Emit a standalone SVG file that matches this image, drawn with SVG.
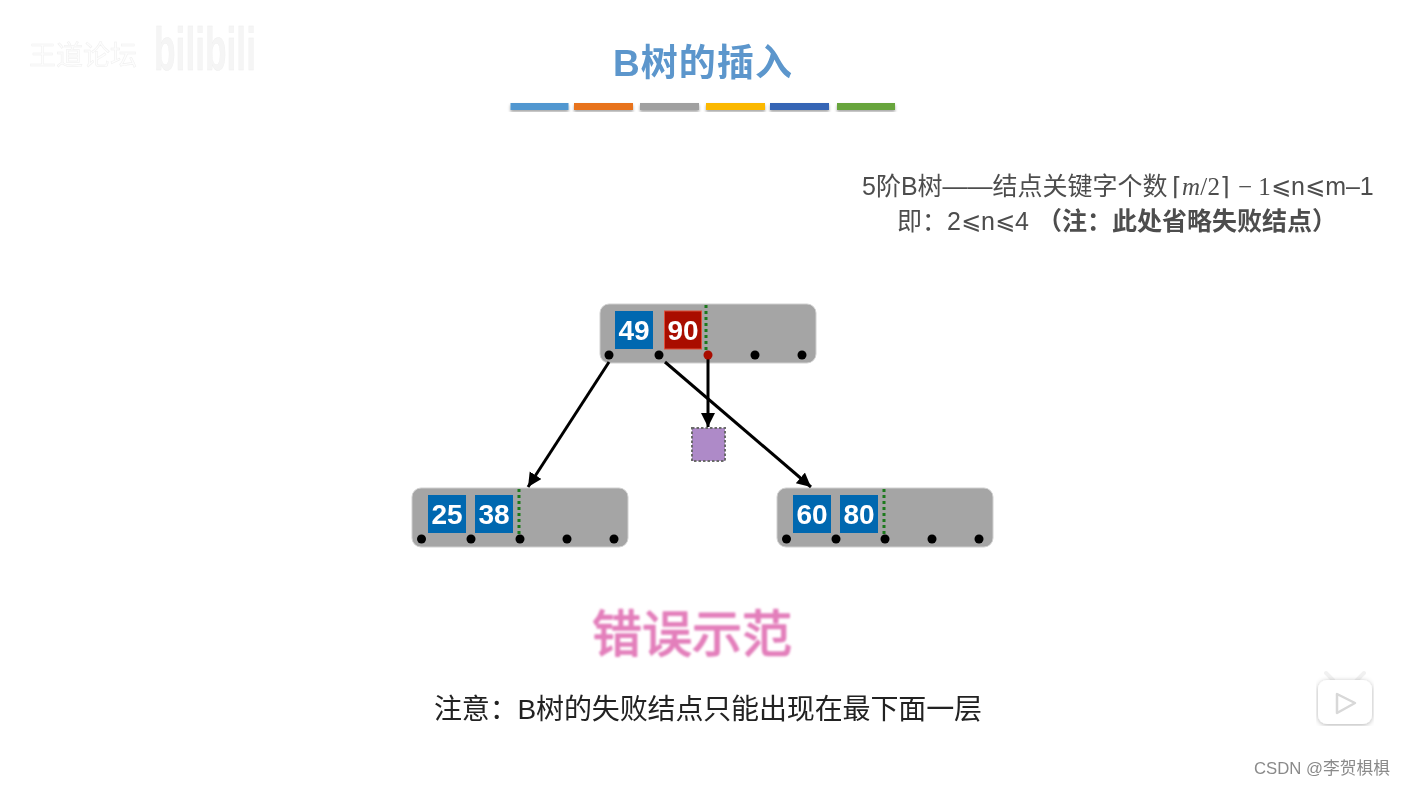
<svg xmlns="http://www.w3.org/2000/svg" width="1405" height="788" viewBox="0 0 1405 788">
<style>
text{font-family:"Liberation Sans","Noto Sans CJK SC",sans-serif}
g{filter:url(#b)}
.node{fill:#a5a5a5;stroke:#d0d0d0;stroke-width:1}
.key{fill:#0567b0}
.keyr{fill:#a90f04;stroke:#e0503a;stroke-width:1}
.num{fill:#fff;font-size:28px;font-weight:bold;text-anchor:middle}
.dot{fill:#000}
.sep{stroke:#1f7a1f;stroke-width:3;stroke-dasharray:3 3}
.edge{stroke:#000;stroke-width:3;fill:none;marker-end:url(#ah)}
.bar{filter:url(#sh)}
.t1{fill:#4d4d4d;font-size:25px}
.le{font-family:"DejaVu Sans",sans-serif;font-size:24px}
</style>
<defs>
<marker id="ah" markerUnits="userSpaceOnUse" markerWidth="16" markerHeight="16" refX="14" refY="7" orient="auto"><path d="M0 0L14 7L0 14Z" fill="#000"/></marker>
<filter id="b" x="-2%" y="-2%" width="104%" height="104%"><feGaussianBlur stdDeviation=".45"/></filter>
<filter id="sh" x="-10%" y="-50%" width="120%" height="250%"><feDropShadow dx="0" dy="2" stdDeviation="1.5" flood-color="#000" flood-opacity=".35"/></filter>
<filter id="tvs" x="-30%" y="-30%" width="160%" height="160%"><feDropShadow dx="0" dy="1" stdDeviation="2.5" flood-color="#000" flood-opacity=".3"/></filter>
<filter id="soft" x="-5%" y="-10%" width="110%" height="120%"><feGaussianBlur stdDeviation=".8"/></filter>
</defs>
<rect width="1405" height="788" fill="#fff"/>

<g id="watermark" fill="#f6f6f6" stroke="#efefef" stroke-width=".5">
<text x="29" y="65" font-size="27" fill="#fdfdfd">王道论坛</text>
<text x="154" y="70" font-size="62" font-weight="bold" textLength="102" lengthAdjust="spacingAndGlyphs" fill="#f5f5f5" style="font-family:'Liberation Sans',sans-serif">bilibili</text>
</g>

<g id="title">
<text x="613" y="76" font-size="37" font-weight="bold" fill="#5b96cc" textLength="179">B树的插入</text>
<rect class="bar" x="510.500" y="103" width="58" height="7" fill="#5197d0"/>
<rect class="bar" x="574" y="103" width="59" height="7" fill="#e8731f"/>
<rect class="bar" x="640" y="103" width="59" height="7" fill="#a0a0a0"/>
<rect class="bar" x="706" y="103" width="59" height="7" fill="#fbb800"/>
<rect class="bar" x="770" y="103" width="59" height="7" fill="#3565b5"/>
<rect class="bar" x="837" y="103" width="58" height="7" fill="#68a53c"/>
</g>

<g id="definition">
<text class="t1" x="862" y="195">5阶B树——结点关键字个数</text>
<text x="1172" y="195" font-size="25" fill="#4d4d4d" textLength="58" style="font-family:'Liberation Serif',serif">⌈<tspan font-style="italic">m</tspan>/2⌉</text>
<text x="1238" y="195" font-size="25" fill="#4d4d4d" style="font-family:'Liberation Serif',serif">− 1</text>
<text class="t1" x="1271" y="195"><tspan class="le" dy="-1">⩽</tspan><tspan dy="1">n</tspan><tspan class="le" dy="-1">⩽</tspan><tspan dy="1">m–1</tspan></text>
<text class="t1" x="897" y="230">即：2<tspan class="le" dy="-1">⩽</tspan><tspan dy="1">n</tspan><tspan class="le" dy="-1">⩽</tspan><tspan dy="1">4</tspan></text>
<text class="t1" x="1037" y="230" font-weight="bold">（注：此处省略失败结点）</text>
</g>

<g id="node-root">
<rect class="node" x="600" y="304" width="216" height="59" rx="9"/>
<rect class="key" x="615" y="311" width="38" height="38"/>
<text class="num" x="634" y="340">49</text>
<rect class="keyr" x="664.500" y="311" width="37" height="38"/>
<text class="num" x="683" y="340">90</text>
<path class="sep" d="M706 305V350"/>
<circle class="dot" cx="609" cy="355" r="4.500"/>
<circle class="dot" cx="659" cy="355" r="4.500"/>
<circle class="dot" cx="755" cy="355" r="4.500"/>
<circle class="dot" cx="802" cy="355" r="4.500"/>
</g>

<g id="node-left">
<rect class="node" x="412" y="488" width="216" height="59" rx="9"/>
<rect class="key" x="428" y="495" width="38" height="38"/>
<text class="num" x="447" y="524">25</text>
<rect class="key" x="475" y="495" width="38" height="38"/>
<text class="num" x="494" y="524">38</text>
<path class="sep" d="M519 489V534"/>
<circle class="dot" cx="421.500" cy="539" r="4.500"/>
<circle class="dot" cx="471" cy="539" r="4.500"/>
<circle class="dot" cx="520" cy="539" r="4.500"/>
<circle class="dot" cx="567" cy="539" r="4.500"/>
<circle class="dot" cx="614" cy="539" r="4.500"/>
</g>

<g id="node-right">
<rect class="node" x="777" y="488" width="216" height="59" rx="9"/>
<rect class="key" x="793" y="495" width="38" height="38"/>
<text class="num" x="812" y="524">60</text>
<rect class="key" x="840" y="495" width="38" height="38"/>
<text class="num" x="859" y="524">80</text>
<path class="sep" d="M884 489V534"/>
<circle class="dot" cx="786.500" cy="539" r="4.500"/>
<circle class="dot" cx="836" cy="539" r="4.500"/>
<circle class="dot" cx="885" cy="539" r="4.500"/>
<circle class="dot" cx="932" cy="539" r="4.500"/>
<circle class="dot" cx="979" cy="539" r="4.500"/>
</g>

<g id="node-fail">
<rect x="692" y="428" width="33" height="33" fill="#ae8ac8" stroke="#6a6a6a" stroke-width="2" stroke-dasharray="2.500 2"/>
</g>

<g id="connectors">
<path class="edge" d="M609 362L528 487"/>
<path class="edge" d="M665 362L811 487"/>
<path class="edge" d="M708 356L708 427"/>
<circle cx="708" cy="355" r="4.500" fill="#a90f04"/>
</g>

<g id="caption">
<text x="692" y="652" font-size="50" text-anchor="middle" fill="#e37fbb" stroke="#e37fbb" stroke-width="1.500" stroke-linejoin="round" filter="url(#soft)">错误示范</text>
<text x="434" y="719" font-size="28" fill="#222" textLength="548">注意：B树的失败结点只能出现在最下面一层</text>
</g>

<g id="tv-icon">
<path d="M1333 680L1326 673M1357 680L1364 673" stroke="#f1f1f1" stroke-width="4" stroke-linecap="round"/>
<rect x="1318" y="680" width="54" height="44" rx="9" fill="#fff" filter="url(#tvs)"/>
<path d="M1337 694L1355 703L1337 713Z" fill="#fff" stroke="#d8d8d8" stroke-width="2.500" stroke-linejoin="round"/>
</g>

<g id="csdn">
<text x="1254" y="774" font-size="17" fill="#8a8a8a" textLength="136" lengthAdjust="spacingAndGlyphs">CSDN @李贺椇椇</text>
</g>
</svg>
